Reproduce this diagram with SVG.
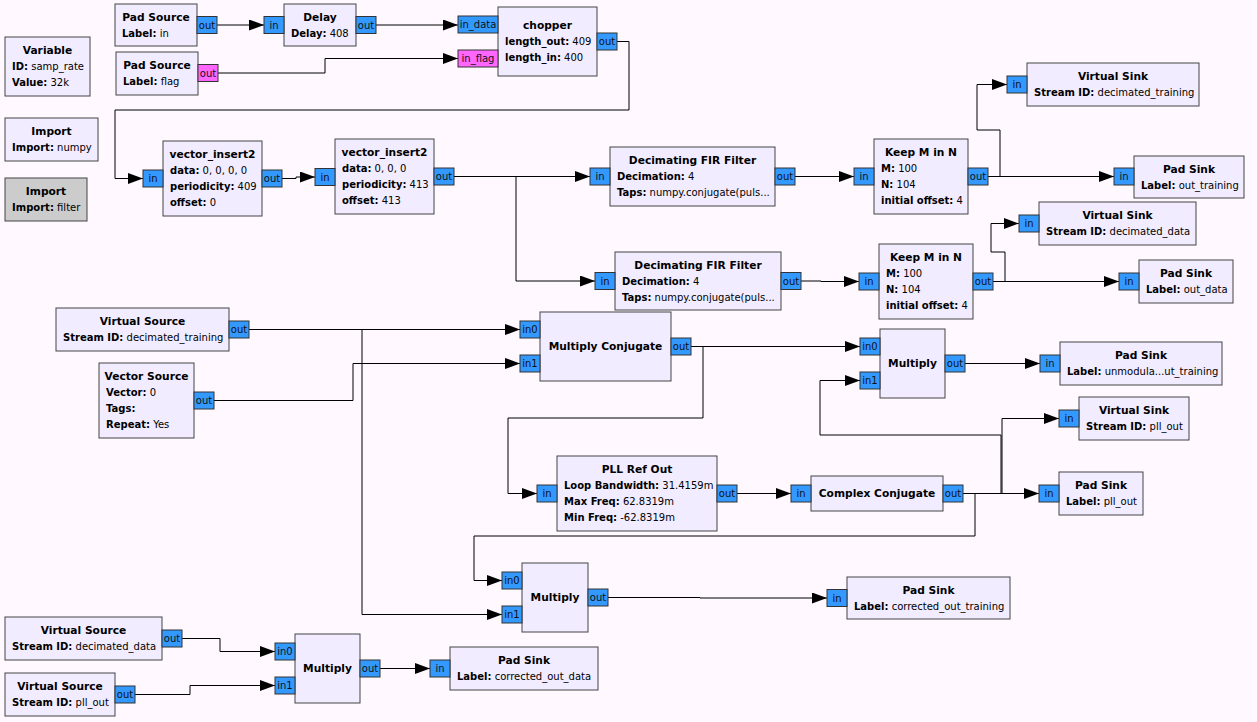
<svg xmlns="http://www.w3.org/2000/svg" width="1257" height="722" viewBox="0 0 1257 722">
  <style>
    text { font-family: "DejaVu Sans", "Liberation Sans", sans-serif; font-size: 10px; fill: #000; }
    .blk { fill: #F1ECFF; stroke: #444; stroke-width: 1; }
    .dis { fill: #CCCCCC; stroke: #444; stroke-width: 1; }
    .port { fill: #3399FF; stroke: #333; stroke-width: 1; }
    .byte { fill: #FF66FF; stroke: #333; stroke-width: 1; }
    .t { font-weight: bold; text-anchor: middle; font-size: 10.67px; }
    .pl { text-anchor: middle; fill: #111; }
    .k { font-weight: bold; }
    .wire { fill: none; stroke: #000; stroke-width: 1; marker-end: url(#arrow); }
  </style>
  <defs>
    <marker id="arrow" markerUnits="userSpaceOnUse" markerWidth="15" markerHeight="11" viewBox="0 0 15 11" refX="15" refY="5.5" orient="auto">
      <path d="M0,0 L15,5.5 L0,11 Z" fill="#000"/>
    </marker>
  </defs>
  <rect x="0" y="0" width="1257" height="722" fill="#FFF9FF"/>

  <!-- connections -->
  <g id="connections">
    <polyline class="wire" points="217,25 264,25"/>
    <polyline class="wire" points="218,73 325,73 325,58.5 458,58.5"/>
    <polyline class="wire" points="376,25 458,25"/>
    <polyline class="wire" points="617,41.5 629,41.5 629,110 115,110 115,178.5 143,178.5"/>
    <polyline class="wire" points="282,178.5 296,178.5 296,177 315,177"/>
    <polyline class="wire" points="454,176.5 590,176.5"/>
    <polyline class="wire" points="516,176.5 516,281 595,281"/>
    <polyline class="wire" points="795,176.5 854,176.5"/>
    <polyline class="wire" points="988,176.5 1114,176.5"/>
    <polyline class="wire" points="1000,176.5 1000,130 977,130 977,84.5 1007,84.5"/>
    <polyline class="wire" points="801,281 821,281 821,281.5 859,281.5"/>
    <polyline class="wire" points="993,281.5 1119,281.5"/>
    <polyline class="wire" points="1005,281.5 1005,252 991,252 991,223.5 1019,223.5"/>
    <polyline class="wire" points="249,329.5 520,329.5"/>
    <polyline class="wire" points="362,329.5 362,614.5 502,614.5"/>
    <polyline class="wire" points="214,400.5 353,400.5 353,363.5 520,363.5"/>
    <polyline class="wire" points="691,346.5 860,346.5"/>
    <polyline class="wire" points="703,346.5 703,418 508,418 508,493.5 537,493.5"/>
    <polyline class="wire" points="965,363.5 1040,363.5"/>
    <polyline class="wire" points="737,493.5 791,493.5"/>
    <polyline class="wire" points="963,493.5 1039,493.5"/>
    <polyline class="wire" points="1002,493.5 1002,418.5 1059,418.5"/>
    <polyline class="wire" points="1001,493.5 1001,435 820,435 820,380.5 860,380.5"/>
    <polyline class="wire" points="975,493.5 975,536 474,536 474,580.5 502,580.5"/>
    <polyline class="wire" points="608,597.5 700,597.5 700,598 827,598"/>
    <polyline class="wire" points="181,638.5 220,638.5 220,651.5 275,651.5"/>
    <polyline class="wire" points="134,694.5 190,694.5 190,685.5 275,685.5"/>
    <polyline class="wire" points="380,668.5 430,668.5"/>
  </g>

  <g id="variable_samp_rate">
    <rect class="blk" x="5" y="37" width="85" height="59"/>
    <text class="t" x="47.5" y="54">Variable</text>
    <text x="12" y="70"><tspan class="k">ID:</tspan> samp_rate</text>
    <text x="12" y="86"><tspan class="k">Value:</tspan> 32k</text>
  </g>
  <g id="import_numpy">
    <rect class="blk" x="5" y="118" width="93" height="43"/>
    <text class="t" x="51.5" y="135">Import</text>
    <text x="12" y="151"><tspan class="k">Import:</tspan> numpy</text>
  </g>
  <g id="import_filter">
    <rect class="dis" x="5" y="178" width="82" height="43"/>
    <text class="t" x="46" y="195">Import</text>
    <text x="12" y="211"><tspan class="k">Import:</tspan> filter</text>
  </g>

  <g id="pad_source_in">
    <rect class="blk" x="115" y="4" width="82" height="42"/>
    <text class="t" x="156" y="21">Pad Source</text>
    <text x="122" y="37"><tspan class="k">Label:</tspan> in</text>
    <rect class="port" x="197" y="16.5" width="20" height="17"/>
    <text class="pl" x="207" y="28.5">out</text>
  </g>
  <g id="pad_source_flag">
    <rect class="blk" x="116" y="52" width="82" height="43"/>
    <text class="t" x="157" y="69">Pad Source</text>
    <text x="123" y="85"><tspan class="k">Label:</tspan> flag</text>
    <rect class="byte" x="198" y="64.5" width="20" height="17"/>
    <text class="pl" x="208" y="76.5">out</text>
  </g>
  <g id="delay">
    <rect class="blk" x="284" y="4" width="72" height="42"/>
    <text class="t" x="320" y="21">Delay</text>
    <text x="291" y="37"><tspan class="k">Delay:</tspan> 408</text>
    <rect class="port" x="264" y="16.5" width="20" height="17"/>
    <text class="pl" x="274" y="28.5">in</text>
    <rect class="port" x="356" y="16.5" width="20" height="17"/>
    <text class="pl" x="366" y="28.5">out</text>
  </g>
  <g id="chopper">
    <rect class="blk" x="498" y="7" width="99" height="69"/>
    <text class="t" x="547.5" y="29">chopper</text>
    <text x="505" y="45"><tspan class="k">length_out:</tspan> 409</text>
    <text x="505" y="61"><tspan class="k">length_in:</tspan> 400</text>
    <rect class="port" x="458" y="16" width="40" height="17"/>
    <text class="pl" x="478" y="28">in_data</text>
    <rect class="byte" x="458" y="50" width="40" height="17"/>
    <text class="pl" x="478" y="62">in_flag</text>
    <rect class="port" x="597" y="33" width="20" height="17"/>
    <text class="pl" x="607" y="45">out</text>
  </g>

  <g id="vector_insert2_0">
    <rect class="blk" x="163" y="141" width="99" height="75"/>
    <text class="t" x="212.5" y="158">vector_insert2</text>
    <text x="170" y="174"><tspan class="k">data:</tspan> 0, 0, 0, 0</text>
    <text x="170" y="190"><tspan class="k">periodicity:</tspan> 409</text>
    <text x="170" y="206"><tspan class="k">offset:</tspan> 0</text>
    <rect class="port" x="143" y="170" width="20" height="17"/>
    <text class="pl" x="153" y="182">in</text>
    <rect class="port" x="262" y="170" width="20" height="17"/>
    <text class="pl" x="272" y="182">out</text>
  </g>
  <g id="vector_insert2_1">
    <rect class="blk" x="335" y="139" width="99" height="75"/>
    <text class="t" x="384.5" y="156">vector_insert2</text>
    <text x="342" y="172"><tspan class="k">data:</tspan> 0, 0, 0</text>
    <text x="342" y="188"><tspan class="k">periodicity:</tspan> 413</text>
    <text x="342" y="204"><tspan class="k">offset:</tspan> 413</text>
    <rect class="port" x="315" y="168.5" width="20" height="17"/>
    <text class="pl" x="325" y="180.5">in</text>
    <rect class="port" x="434" y="168" width="20" height="17"/>
    <text class="pl" x="444" y="180">out</text>
  </g>

  <g id="fir_filter_0">
    <rect class="blk" x="610" y="147" width="165" height="59"/>
    <text class="t" x="692.5" y="164">Decimating FIR Filter</text>
    <text x="617" y="180"><tspan class="k">Decimation:</tspan> 4</text>
    <text x="617" y="196"><tspan class="k">Taps:</tspan> numpy.conjugate(puls...</text>
    <rect class="port" x="590" y="168" width="20" height="17"/>
    <text class="pl" x="600" y="180">in</text>
    <rect class="port" x="775" y="168" width="20" height="17"/>
    <text class="pl" x="785" y="180">out</text>
  </g>
  <g id="keep_m_in_n_0">
    <rect class="blk" x="874" y="139" width="94" height="75"/>
    <text class="t" x="921" y="156">Keep M in N</text>
    <text x="881" y="172"><tspan class="k">M:</tspan> 100</text>
    <text x="881" y="188"><tspan class="k">N:</tspan> 104</text>
    <text x="881" y="204"><tspan class="k">initial offset:</tspan> 4</text>
    <rect class="port" x="854" y="168" width="20" height="17"/>
    <text class="pl" x="864" y="180">in</text>
    <rect class="port" x="968" y="168" width="20" height="17"/>
    <text class="pl" x="978" y="180">out</text>
  </g>
  <g id="virtual_sink_decimated_training">
    <rect class="blk" x="1027" y="63" width="172" height="43"/>
    <text class="t" x="1113" y="80">Virtual Sink</text>
    <text x="1034" y="96"><tspan class="k">Stream ID:</tspan> decimated_training</text>
    <rect class="port" x="1007" y="76" width="20" height="17"/>
    <text class="pl" x="1017" y="88">in</text>
  </g>
  <g id="pad_sink_out_training">
    <rect class="blk" x="1134" y="156" width="110" height="42"/>
    <text class="t" x="1189" y="173">Pad Sink</text>
    <text x="1141" y="189"><tspan class="k">Label:</tspan> out_training</text>
    <rect class="port" x="1114" y="168" width="20" height="17"/>
    <text class="pl" x="1124" y="180">in</text>
  </g>

  <g id="fir_filter_1">
    <rect class="blk" x="615" y="252" width="166" height="58"/>
    <text class="t" x="698" y="269">Decimating FIR Filter</text>
    <text x="622" y="285"><tspan class="k">Decimation:</tspan> 4</text>
    <text x="622" y="301"><tspan class="k">Taps:</tspan> numpy.conjugate(puls...</text>
    <rect class="port" x="595" y="272.5" width="20" height="17"/>
    <text class="pl" x="605" y="284.5">in</text>
    <rect class="port" x="781" y="272.5" width="20" height="17"/>
    <text class="pl" x="791" y="284.5">out</text>
  </g>
  <g id="keep_m_in_n_1">
    <rect class="blk" x="879" y="244" width="94" height="75"/>
    <text class="t" x="926" y="261">Keep M in N</text>
    <text x="886" y="277"><tspan class="k">M:</tspan> 100</text>
    <text x="886" y="293"><tspan class="k">N:</tspan> 104</text>
    <text x="886" y="309"><tspan class="k">initial offset:</tspan> 4</text>
    <rect class="port" x="859" y="273" width="20" height="17"/>
    <text class="pl" x="869" y="285">in</text>
    <rect class="port" x="973" y="273" width="20" height="17"/>
    <text class="pl" x="983" y="285">out</text>
  </g>
  <g id="virtual_sink_decimated_data">
    <rect class="blk" x="1039" y="202" width="157" height="43"/>
    <text class="t" x="1117.5" y="219">Virtual Sink</text>
    <text x="1046" y="235"><tspan class="k">Stream ID:</tspan> decimated_data</text>
    <rect class="port" x="1019" y="215" width="20" height="17"/>
    <text class="pl" x="1029" y="227">in</text>
  </g>
  <g id="pad_sink_out_data">
    <rect class="blk" x="1139" y="260" width="94" height="43"/>
    <text class="t" x="1186" y="277">Pad Sink</text>
    <text x="1146" y="293"><tspan class="k">Label:</tspan> out_data</text>
    <rect class="port" x="1119" y="273" width="20" height="17"/>
    <text class="pl" x="1129" y="285">in</text>
  </g>

  <g id="virtual_source_decimated_training">
    <rect class="blk" x="56" y="308" width="173" height="43"/>
    <text class="t" x="142.5" y="325">Virtual Source</text>
    <text x="63" y="341"><tspan class="k">Stream ID:</tspan> decimated_training</text>
    <rect class="port" x="229" y="321" width="20" height="17"/>
    <text class="pl" x="239" y="333">out</text>
  </g>
  <g id="vector_source">
    <rect class="blk" x="99" y="363" width="95" height="75"/>
    <text class="t" x="146.5" y="380">Vector Source</text>
    <text x="106" y="396"><tspan class="k">Vector:</tspan> 0</text>
    <text x="106" y="412"><tspan class="k">Tags:</tspan></text>
    <text x="106" y="428"><tspan class="k">Repeat:</tspan> Yes</text>
    <rect class="port" x="194" y="392" width="20" height="17"/>
    <text class="pl" x="204" y="404">out</text>
  </g>
  <g id="multiply_conjugate">
    <rect class="blk" x="540" y="312" width="131" height="69"/>
    <text class="t" x="605.5" y="350">Multiply Conjugate</text>
    <rect class="port" x="520" y="321" width="20" height="17"/>
    <text class="pl" x="530" y="333">in0</text>
    <rect class="port" x="520" y="355" width="20" height="17"/>
    <text class="pl" x="530" y="367">in1</text>
    <rect class="port" x="671" y="338" width="20" height="17"/>
    <text class="pl" x="681" y="350">out</text>
  </g>
  <g id="multiply_0">
    <rect class="blk" x="880" y="329" width="65" height="69"/>
    <text class="t" x="912.5" y="367">Multiply</text>
    <rect class="port" x="860" y="338" width="20" height="17"/>
    <text class="pl" x="870" y="350">in0</text>
    <rect class="port" x="860" y="372" width="20" height="17"/>
    <text class="pl" x="870" y="384">in1</text>
    <rect class="port" x="945" y="355" width="20" height="17"/>
    <text class="pl" x="955" y="367">out</text>
  </g>
  <g id="pad_sink_unmodulated_out_training">
    <rect class="blk" x="1060" y="342" width="162" height="43"/>
    <text class="t" x="1141" y="359">Pad Sink</text>
    <text x="1067" y="375"><tspan class="k">Label:</tspan> unmodula...ut_training</text>
    <rect class="port" x="1040" y="355" width="20" height="17"/>
    <text class="pl" x="1050" y="367">in</text>
  </g>
  <g id="virtual_sink_pll_out">
    <rect class="blk" x="1079" y="397" width="110" height="43"/>
    <text class="t" x="1134" y="414">Virtual Sink</text>
    <text x="1086" y="430"><tspan class="k">Stream ID:</tspan> pll_out</text>
    <rect class="port" x="1059" y="410" width="20" height="17"/>
    <text class="pl" x="1069" y="422">in</text>
  </g>
  <g id="pll_refout">
    <rect class="blk" x="557" y="456" width="160" height="75"/>
    <text class="t" x="637" y="473">PLL Ref Out</text>
    <text x="564" y="489"><tspan class="k">Loop Bandwidth:</tspan> 31.4159m</text>
    <text x="564" y="505"><tspan class="k">Max Freq:</tspan> 62.8319m</text>
    <text x="564" y="521"><tspan class="k">Min Freq:</tspan> -62.8319m</text>
    <rect class="port" x="537" y="485" width="20" height="17"/>
    <text class="pl" x="547" y="497">in</text>
    <rect class="port" x="717" y="485" width="20" height="17"/>
    <text class="pl" x="727" y="497">out</text>
  </g>
  <g id="complex_conjugate">
    <rect class="blk" x="811" y="476" width="132" height="35"/>
    <text class="t" x="877" y="497">Complex Conjugate</text>
    <rect class="port" x="791" y="485" width="20" height="17"/>
    <text class="pl" x="801" y="497">in</text>
    <rect class="port" x="943" y="485" width="20" height="17"/>
    <text class="pl" x="953" y="497">out</text>
  </g>
  <g id="pad_sink_pll_out">
    <rect class="blk" x="1059" y="472" width="84" height="43"/>
    <text class="t" x="1101" y="489">Pad Sink</text>
    <text x="1066" y="505"><tspan class="k">Label:</tspan> pll_out</text>
    <rect class="port" x="1039" y="485" width="20" height="17"/>
    <text class="pl" x="1049" y="497">in</text>
  </g>
  <g id="multiply_1">
    <rect class="blk" x="522" y="563" width="66" height="69"/>
    <text class="t" x="555" y="601">Multiply</text>
    <rect class="port" x="502" y="572" width="20" height="17"/>
    <text class="pl" x="512" y="584">in0</text>
    <rect class="port" x="502" y="606" width="20" height="17"/>
    <text class="pl" x="512" y="618">in1</text>
    <rect class="port" x="588" y="589" width="20" height="17"/>
    <text class="pl" x="598" y="601">out</text>
  </g>
  <g id="pad_sink_corrected_out_training">
    <rect class="blk" x="847" y="577" width="163" height="42"/>
    <text class="t" x="928.5" y="594">Pad Sink</text>
    <text x="854" y="610"><tspan class="k">Label:</tspan> corrected_out_training</text>
    <rect class="port" x="827" y="589.5" width="20" height="17"/>
    <text class="pl" x="837" y="601.5">in</text>
  </g>

  <g id="virtual_source_decimated_data">
    <rect class="blk" x="5" y="617" width="157" height="43"/>
    <text class="t" x="83.5" y="634">Virtual Source</text>
    <text x="12" y="650"><tspan class="k">Stream ID:</tspan> decimated_data</text>
    <rect class="port" x="162" y="630" width="20" height="17"/>
    <text class="pl" x="172" y="642">out</text>
  </g>
  <g id="virtual_source_pll_out">
    <rect class="blk" x="5" y="673" width="110" height="43"/>
    <text class="t" x="60" y="690">Virtual Source</text>
    <text x="12" y="706"><tspan class="k">Stream ID:</tspan> pll_out</text>
    <rect class="port" x="115" y="686" width="20" height="17"/>
    <text class="pl" x="125" y="698">out</text>
  </g>
  <g id="multiply_2">
    <rect class="blk" x="295" y="634" width="65" height="69"/>
    <text class="t" x="327.5" y="672">Multiply</text>
    <rect class="port" x="275" y="643" width="20" height="17"/>
    <text class="pl" x="285" y="655">in0</text>
    <rect class="port" x="275" y="677" width="20" height="17"/>
    <text class="pl" x="285" y="689">in1</text>
    <rect class="port" x="360" y="660" width="20" height="17"/>
    <text class="pl" x="370" y="672">out</text>
  </g>
  <g id="pad_sink_corrected_out_data">
    <rect class="blk" x="450" y="647" width="148" height="43"/>
    <text class="t" x="524" y="664">Pad Sink</text>
    <text x="457" y="680"><tspan class="k">Label:</tspan> corrected_out_data</text>
    <rect class="port" x="430" y="660" width="20" height="17"/>
    <text class="pl" x="440" y="672">in</text>
  </g>
</svg>
